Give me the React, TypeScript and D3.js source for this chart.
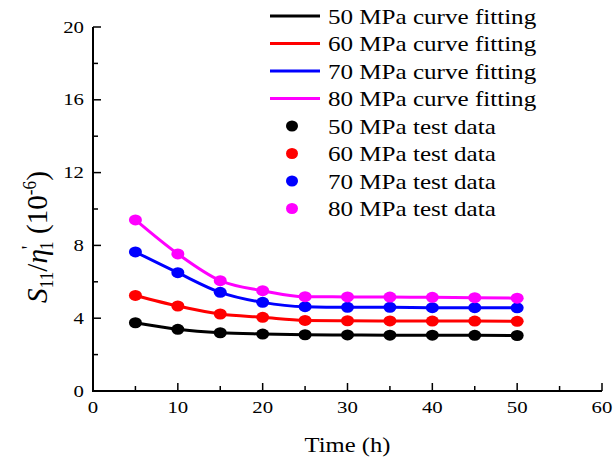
import { useEffect, useRef } from "react";
import * as d3 from "d3";

// test times (h)
const times = [5, 10, 15, 20, 25, 30, 35, 40, 45, 50];

// S11/eta'1 (10^-6)
const mpa50 = [3.75, 3.39, 3.2, 3.13, 3.09, 3.08, 3.07, 3.07, 3.06, 3.05];
const mpa60 = [5.25, 4.67, 4.23, 4.05, 3.88, 3.86, 3.85, 3.84, 3.84, 3.83];
const mpa70 = [7.64, 6.5, 5.42, 4.87, 4.63, 4.6, 4.6, 4.58, 4.58, 4.57];
const mpa80 = [9.4, 7.53, 6.06, 5.51, 5.18, 5.17, 5.16, 5.15, 5.13, 5.1];

const seriesNames = ["50 MPa", "60 MPa", "70 MPa", "80 MPa"];
const colors = ["#000000", "#ff0000", "#0000ff", "#ff00ff"];

const xTicks = [0, 10, 20, 30, 40, 50, 60];
const yTicks = [0, 4, 8, 12, 16, 20];

export default function App() {
  const ref = useRef<SVGSVGElement>(null);

  useEffect(() => {
    const svg = d3.select(ref.current);
    svg.selectAll("*").remove();

    const font = "Liberation Serif, serif";
    const left = 93, right = 602, top = 27, bottom = 391;

    const x = d3.scaleLinear().domain([0, 60]).range([left, right]);
    const y = d3.scaleLinear().domain([0, 20]).range([bottom, top]);

    const g = svg.append("g");

    // stretched text helper (the figure's glyphs are wider than tall)
    const label = (tx: number, ty: number, s: string, size: number, sx: number, anchor = "start") =>
      g.append("text")
        .attr("transform", `translate(${tx},${ty}) scale(${sx},1)`)
        .attr("text-anchor", anchor)
        .attr("font-family", font)
        .attr("font-size", size)
        .attr("fill", "#000")
        .text(s);

    // axes lines
    g.append("path")
      .attr("d", `M${left},${top}V${bottom}H${right}`)
      .attr("fill", "none")
      .attr("stroke", "#000")
      .attr("stroke-width", 2);

    // x ticks (inward)
    d3.range(0, 61, 5).forEach((v) => {
      const major = v % 10 === 0;
      g.append("line")
        .attr("x1", x(v)).attr("x2", x(v))
        .attr("y1", bottom).attr("y2", bottom - (major ? 8 : 5))
        .attr("stroke", "#000").attr("stroke-width", 1.5);
    });
    xTicks.forEach((v) => label(x(v), bottom + 22, String(v), 16, 1.3, "middle"));

    // y ticks (inward)
    d3.range(0, 21, 2).forEach((v) => {
      const major = v % 4 === 0;
      g.append("line")
        .attr("x1", left).attr("x2", left + (major ? 8 : 5))
        .attr("y1", y(v)).attr("y2", y(v))
        .attr("stroke", "#000").attr("stroke-width", 1.5);
    });
    yTicks.forEach((v) => label(left - 9, y(v) + 5.5, String(v), 16, 1.3, "end"));

    // axis titles
    label((left + right) / 2, 452, "Time (h)", 22, 1.12, "middle");

    const yl = g.append("text")
      .attr("transform", `translate(47,237) rotate(-90) scale(1.08,1.12)`)
      .attr("text-anchor", "middle")
      .attr("font-family", font)
      .attr("font-size", 27)
      .attr("fill", "#000");
    yl.append("tspan").attr("font-style", "italic").text("S");
    yl.append("tspan").attr("font-size", 16).attr("dy", 5).text("11");
    yl.append("tspan").attr("dy", -5).text("/");
    yl.append("tspan").attr("font-style", "italic").text("η");
    yl.append("tspan").attr("font-size", 18).attr("dy", -10).text("'");
    yl.append("tspan").attr("font-size", 16).attr("dy", 15).attr("dx", -4).text("1");
    yl.append("tspan").attr("dy", -5).text(" (10");
    yl.append("tspan").attr("font-size", 16).attr("dy", -10).text("-6");
    yl.append("tspan").attr("dy", 10).text(")");

    const allSeries = [mpa50, mpa60, mpa70, mpa80];

    const line = d3.line<number>()
      .x((_, i) => x(times[i]))
      .y((d) => y(d))
      .curve(d3.curveMonotoneX);

    allSeries.forEach((vals, k) => {
      g.append("path")
        .attr("d", line(vals))
        .attr("fill", "none")
        .attr("stroke", colors[k])
        .attr("stroke-width", 3);
    });
    allSeries.forEach((vals, k) => {
      g.selectAll(null)
        .data(vals)
        .enter()
        .append("ellipse")
        .attr("cx", (_, i) => x(times[i]))
        .attr("cy", (d) => y(d))
        .attr("rx", 6.5)
        .attr("ry", 5.5)
        .attr("fill", colors[k]);
    });

    // legend
    const lx = 270, ly = 16, step = 27.5;
    seriesNames.forEach((n, k) => {
      const yy = ly + k * step;
      g.append("line")
        .attr("x1", lx).attr("x2", lx + 50)
        .attr("y1", yy).attr("y2", yy)
        .attr("stroke", colors[k]).attr("stroke-width", 3);
      label(lx + 58, yy + 7.5, `${n} curve fitting`, 22, 1.14);
    });
    seriesNames.forEach((n, k) => {
      const yy = ly + (k + 4) * step;
      g.append("ellipse")
        .attr("cx", lx + 22).attr("cy", yy)
        .attr("rx", 6).attr("ry", 5.5)
        .attr("fill", colors[k]);
      label(lx + 58, yy + 7.5, `${n} test data`, 22, 1.14);
    });
  }, []);

  return (
    <svg
      ref={ref}
      width={614}
      height={460}
      style={{ position: "absolute", left: 0, top: 0, background: "#fff" }}
    />
  );
}
